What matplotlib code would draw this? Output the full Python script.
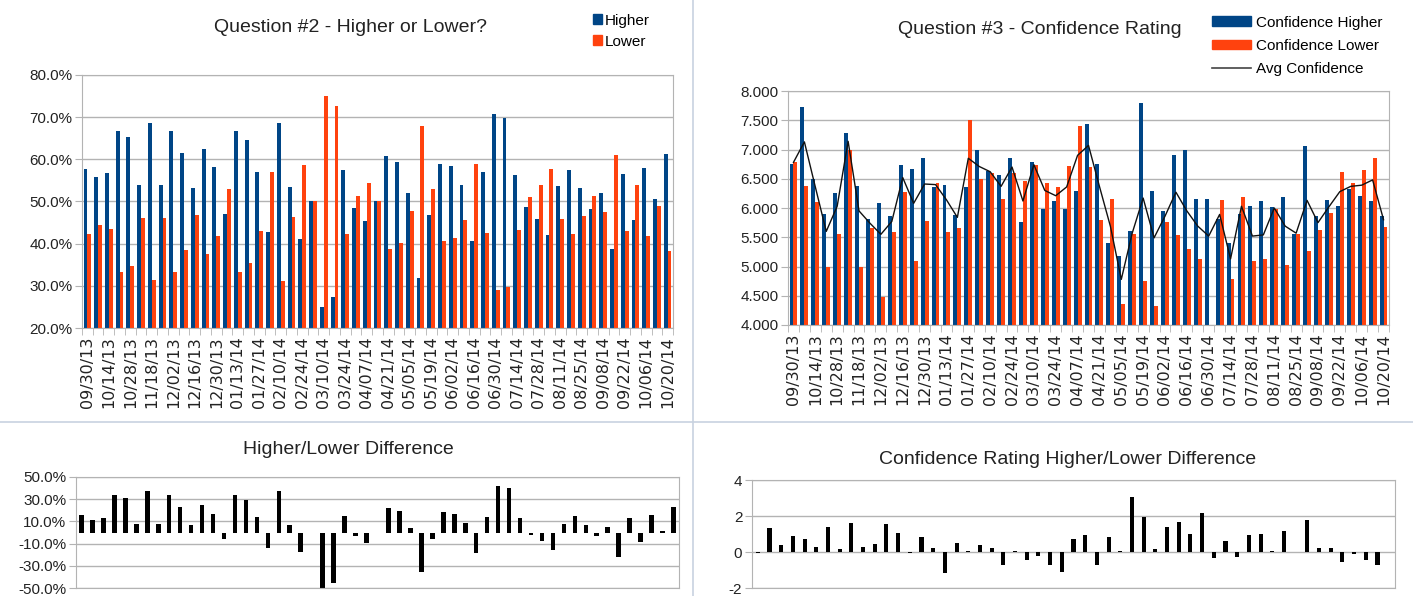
import numpy as np
import matplotlib
matplotlib.use('Agg')
import matplotlib.pyplot as plt
from matplotlib.lines import Line2D
from matplotlib.patches import Patch

plt.rcParams['font.family'] = ['Liberation Sans', 'DejaVu Sans']

# weekly survey results, 09/30/13 .. 10/20/14 (55 weeks)
date_labels = ['09/30/13', '10/14/13', '10/28/13', '11/18/13', '12/02/13', '12/16/13', '12/30/13',
               '01/13/14', '01/27/14', '02/10/14', '02/24/14', '03/10/14', '03/24/14', '04/07/14',
               '04/21/14', '05/05/14', '05/19/14', '06/02/14', '06/16/14', '06/30/14', '07/14/14',
               '07/28/14', '08/11/14', '08/25/14', '09/08/14', '09/22/14', '10/06/14', '10/20/14']

higher = [57.7, 55.7, 56.7, 66.7, 65.4, 53.9, 68.5, 53.9, 66.7, 61.5,
          53.3, 62.5, 58.3, 47.1, 66.7, 64.7, 57.1, 42.8, 68.6, 53.5,
          41.2, 50.0, 25.0, 27.3, 57.5, 48.4, 45.3, 50.0, 60.8, 59.4,
          51.9, 31.8, 46.7, 59.0, 58.4, 54.0, 40.7, 57.0, 70.8, 69.8,
          56.3, 48.7, 45.8, 42.0, 53.7, 57.5, 53.2, 48.3, 52.1, 38.7,
          56.5, 45.7, 57.9, 50.6, 61.3]
lower = [42.3, 44.4, 43.4, 33.3, 34.7, 46.1, 31.5, 46.1, 33.3, 38.5,
         46.7, 37.5, 41.7, 52.9, 33.3, 35.3, 42.9, 57.1, 31.2, 46.4,
         58.7, 50.0, 75.0, 72.7, 42.2, 51.3, 54.4, 50.0, 38.7, 40.2,
         47.7, 67.8, 53.0, 40.6, 41.3, 45.6, 59.0, 42.6, 28.9, 29.8,
         43.3, 51.0, 53.9, 57.8, 45.9, 42.2, 46.5, 51.4, 47.5, 61.0,
         43.1, 54.0, 41.7, 49.0, 38.3]

conf_higher = [6.76, 7.73, 6.49, 5.89, 6.25, 7.28, 6.38, 5.82, 6.08, 5.86,
               6.74, 6.66, 6.85, 6.36, 6.40, 5.88, 6.36, 6.99, 6.64, 6.56,
               6.85, 5.76, 6.79, 5.99, 6.12, 5.99, 6.29, 7.43, 6.76, 5.41,
               5.18, 5.61, 7.80, 6.29, 5.95, 6.91, 6.99, 6.15, 6.15, 5.82,
               5.41, 5.89, 6.03, 6.12, 6.02, 6.19, 5.56, 7.06, 5.87, 6.14,
               6.04, 6.32, 6.21, 6.12, 5.87]
conf_lower = [6.79, 6.37, 6.10, 4.99, 5.55, 6.99, 4.99, 5.66, 4.48, 5.59,
              6.28, 5.10, 5.78, 6.43, 5.59, 5.66, 7.50, 6.50, 6.60, 6.15,
              6.60, 6.46, 6.73, 6.43, 6.36, 6.72, 7.41, 6.70, 5.80, 6.15,
              4.36, 5.56, 4.75, 4.32, 5.76, 5.53, 5.30, 5.13, 4.00, 6.13,
              4.78, 6.18, 5.10, 5.12, 5.99, 5.02, 5.55, 5.27, 5.63, 5.92,
              6.62, 6.42, 6.65, 6.86, 5.67]
avg_conf = [6.78, 7.13, 6.36, 5.60, 6.03, 7.14, 5.95, 5.74, 5.55, 5.77,
            6.52, 6.08, 6.41, 6.40, 6.14, 5.84, 6.85, 6.71, 6.62, 6.37,
            6.70, 6.12, 6.74, 6.30, 6.21, 6.36, 6.90, 7.07, 6.37, 5.69,
            4.78, 5.57, 6.17, 5.49, 5.86, 6.27, 5.95, 5.69, 5.52, 5.89,
            5.13, 6.03, 5.52, 5.54, 6.00, 5.69, 5.57, 6.13, 5.75, 6.02,
            6.28, 6.37, 6.39, 6.48, 5.80]

BLUE = '#004586'
ORANGE = '#ff420e'
GRID = '#b3b3b3'
TXT = '#222222'

x = np.arange(len(higher))
diff = np.array(higher) - np.array(lower)
# the confidence difference sheet stops one week short
conf_diff = (np.array(conf_higher) - np.array(conf_lower))[:-1]

W, H = 1413, 596
fig = plt.figure(figsize=(W / 100, H / 100), dpi=100)


def box(l, t, r, b):
    return [l / W, 1 - b / H, (r - l) / W, (b - t) / H]


def style(ax, ylim, yticks, fmt, cat_labels=True):
    ax.set_xlim(-0.5, len(x) - 0.5)
    ax.set_ylim(*ylim)
    ax.set_yticks(yticks)
    ax.set_yticklabels([fmt.format(v) for v in yticks], fontsize=11, color=TXT)
    ax.grid(axis='y', color=GRID, lw=1)
    ax.set_axisbelow(True)
    for s in ax.spines.values():
        s.set_color(GRID)
    ax.tick_params(axis='y', length=5, color=GRID, pad=2)
    if cat_labels:
        ax.set_xticks(np.arange(0, len(x), 2))
        ax.set_xticklabels(date_labels, rotation=90, fontsize=11.5, color=TXT,
                           family=['DejaVu Sans'])
        ax.set_xticks(np.arange(-0.5, len(x), 1), minor=True)
        ax.tick_params(axis='x', which='major', length=0, pad=6)
        ax.tick_params(axis='x', which='minor', length=5, color=GRID)
    else:
        ax.set_xticks([])


# Question #2
ax1 = fig.add_axes(box(82, 75, 673, 328))
ax1.bar(x - 0.18, higher, 0.36, color=BLUE)
ax1.bar(x + 0.18, lower, 0.36, color=ORANGE)
style(ax1, (20, 80), np.arange(20, 81, 10), '{:.1f}%')
fig.text(350 / W, 1 - 27 / H, 'Question #2 - Higher or Lower?', ha='center', va='center',
         fontsize=14, color=TXT)
fig.legend([Patch(color=BLUE), Patch(color=ORANGE)], ['Higher', 'Lower'],
           loc='upper left', bbox_to_anchor=(585 / W, 1 - 6 / H), frameon=False,
           fontsize=11, handlelength=0.6, handleheight=0.6, handletextpad=0.2,
           labelspacing=0.45, borderpad=0)

# Question #3
ax2 = fig.add_axes(box(788, 91, 1389, 325))
ax2.bar(x - 0.18, conf_higher, 0.36, color=BLUE)
ax2.bar(x + 0.18, conf_lower, 0.36, color=ORANGE)
ax2.plot(x, avg_conf, color='#111111', lw=1)
style(ax2, (4, 8), np.arange(4, 8.01, 0.5), '{:.3f}')
fig.text(1040 / W, 1 - 30 / H, 'Question #3 - Confidence Rating', ha='center', va='center',
         fontsize=14, color=TXT)
fig.legend([Patch(color=BLUE), Patch(color=ORANGE), Line2D([], [], color='#444444', lw=1.2)],
           ['Confidence Higher', 'Confidence Lower', 'Avg Confidence'],
           loc='upper left', bbox_to_anchor=(1204 / W, 1 - 8 / H), frameon=False,
           fontsize=11, handlelength=2.6, handleheight=0.6, handletextpad=0.3,
           labelspacing=0.6, borderpad=0)

# Higher/Lower difference
ax3 = fig.add_axes(box(76, 477, 679, 588))
ax3.bar(x, diff, 0.42, color='black')
style(ax3, (-50, 50), np.arange(-50, 51, 20), '{:.1f}%', cat_labels=False)
fig.text(348 / W, 1 - 450 / H, 'Higher/Lower Difference', ha='center', va='center',
         fontsize=14, color=TXT)

# Confidence difference
ax4 = fig.add_axes(box(752, 480, 1395, 588))
ax4.bar(x[:len(conf_diff)], conf_diff, 0.35, color='black')
style(ax4, (-2, 4), [-2, 0, 2, 4], '{:.0f}', cat_labels=False)
fig.text(1068 / W, 1 - 460 / H, 'Confidence Rating Higher/Lower Difference', ha='center',
         va='center', fontsize=14, color=TXT)

# sheet separators
sep = '#c8d2e0'
fig.add_artist(Line2D([693 / W, 693 / W], [0, 1], color=sep, lw=1.2))
fig.add_artist(Line2D([0, 1], [1 - 422 / H, 1 - 422 / H], color=sep, lw=1.2))

fig.savefig('out.png', dpi=100, facecolor='white')
